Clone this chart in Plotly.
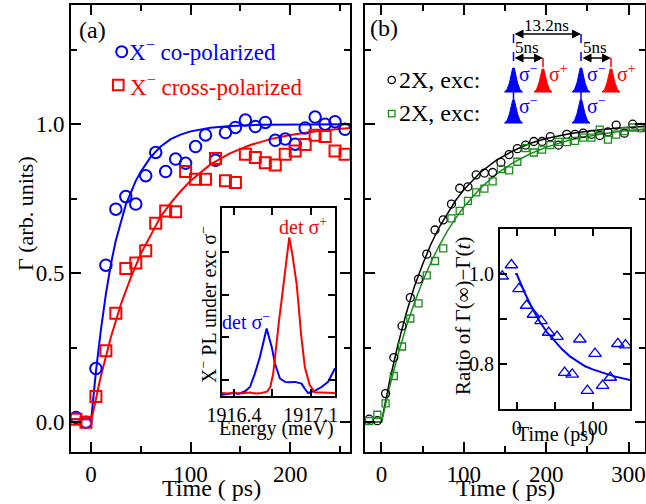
import plotly.graph_objects as go

W, H = 646, 504
FONT = "Liberation Serif, Times New Roman, Times, DejaVu Serif, serif"


def px(x):
    return x / W


def py(y):
    return 1 - y / H


# ---------------- Panel (a) data ----------------
t_a = [-15, -5, 5, 15, 25, 35, 45, 55, 65, 75, 85, 95, 105, 115, 125, 135, 145,
       155, 165, 175, 185, 195, 205, 215, 225, 235, 245, 255]
co_pol = [0.016, 0.0, 0.18, 0.527, 0.715, 0.757, 0.732, 0.827, 0.905, 0.841, 0.883,
          0.869, 0.925, 0.964, 0.879, 0.972, 0.989, 1.014, 0.992, 1.006, 0.946, 0.95,
          0.933, 0.987, 1.024, 1.0, 1.008, 0.983]
cross_pol = [0.01, 0.0, 0.086, 0.24, 0.366, 0.516, 0.534, 0.575, 0.668, 0.709, 0.706,
             0.841, 0.815, 0.815, 0.885, 0.81, 0.804, 0.899, 0.888, 0.871, 0.863, 0.899,
             0.91, 0.932, 0.963, 0.959, 0.91, 0.899]

fit_co_t = [-20, -1, 0, 5, 10, 15, 20, 25, 30, 35, 40, 45, 50, 60, 70, 80, 90, 100,
            120, 140, 170, 260]
fit_co = [0.01, 0.01, 0.0, 0.17, 0.31, 0.43, 0.53, 0.61, 0.67, 0.73, 0.77, 0.81, 0.84,
          0.89, 0.925, 0.95, 0.965, 0.976, 0.988, 0.994, 0.998, 1.0]
fit_cross_t = [-20, -1, 0, 5, 10, 15, 20, 30, 40, 50, 60, 70, 80, 90, 100, 120, 140,
               160, 180, 200, 230, 260]
fit_cross = [0.01, 0.01, 0.0, 0.08, 0.155, 0.22, 0.285, 0.395, 0.485, 0.565, 0.63,
             0.69, 0.735, 0.775, 0.81, 0.865, 0.903, 0.93, 0.95, 0.964, 0.978, 0.987]

# Inset (a): PL spectra
E_red = [1916.29, 1916.35, 1916.4, 1916.45, 1916.5, 1916.55, 1916.6, 1916.65, 1916.7,
         1916.73, 1916.757, 1916.788, 1916.81, 1916.833, 1916.855, 1916.879, 1916.903,
         1916.93, 1916.95, 1916.97, 1916.99, 1917.01, 1917.045, 1917.07, 1917.09,
         1917.136, 1917.2, 1917.25, 1917.32]
I_red = [-0.30, -0.31, -0.29, -0.31, -0.30, -0.29, -0.31, -0.30, -0.27, -0.16, 0.16,
         0.94, 1.4, 1.87, 2.35, 2.81, 3.34, 2.97, 2.6, 2.26, 1.7, 1.09, 0.31, 0.05,
         -0.12, -0.28, -0.29, -0.30, -0.30]
E_blue = [1916.29, 1916.35, 1916.4, 1916.44, 1916.5, 1916.545, 1916.59, 1916.636,
          1916.675, 1916.697, 1916.718, 1916.743, 1916.773, 1916.818, 1916.864, 1916.9,
          1916.955, 1917.015, 1917.045, 1917.075, 1917.136, 1917.197, 1917.257, 1917.3,
          1917.32]
I_blue = [-0.34, -0.32, -0.30, -0.32, -0.26, -0.16, 0.16, 0.55, 0.94, 1.21, 1.01, 0.78,
          0.39, 0.04, -0.04, -0.05, -0.04, -0.08, -0.2, -0.3, -0.25, -0.16, -0.04, 0.2,
          0.28]

# ---------------- Panel (b) data ----------------
t_b = [-15, -5, 5, 15, 25, 35, 45, 55, 65, 75, 85, 95, 105, 115, 125, 135, 145, 155,
       165, 175, 185, 195, 205, 215, 225, 235, 245, 255, 265, 275, 285, 295, 305, 315]
x2_same = [0.01, 0.005, 0.096, 0.217, 0.323, 0.418, 0.48, 0.564, 0.645, 0.679, 0.732,
           0.785, 0.79, 0.83, 0.836, 0.838, 0.872, 0.898, 0.918, 0.93, 0.942, 0.942,
           0.958, 0.93, 0.966, 0.966, 0.97, 0.966, 0.962, 0.974, 0.997, 0.97, 1.0, 0.989]
x2_alt = [0.004, 0.025, 0.063, 0.155, 0.254, 0.348, 0.399, 0.493, 0.541, 0.583, 0.684,
          0.709, 0.743, 0.771, 0.784, 0.808, 0.849, 0.845, 0.874, 0.92, 0.905, 0.915,
          0.93, 0.941, 0.94, 0.944, 0.955, 0.955, 0.982, 0.948, 0.965, 0.977, 0.989, 0.987]

fit_b_t = [-20, 0, 10, 20, 30, 40, 50, 60, 70, 80, 90, 100, 120, 140, 160, 180, 200,
           230, 260, 290, 320]
fit_same = [0.0, 0.0, 0.14, 0.26, 0.365, 0.455, 0.53, 0.597, 0.654, 0.70, 0.744, 0.78,
            0.838, 0.88, 0.911, 0.935, 0.952, 0.969, 0.98, 0.988, 0.992]
fit_alt = [0.0, 0.0, 0.12, 0.226, 0.32, 0.401, 0.473, 0.536, 0.592, 0.641, 0.684, 0.722,
           0.785, 0.834, 0.871, 0.9, 0.923, 0.948, 0.964, 0.976, 0.984]

# Inset (b): ratio
ratio_t = [-19, -7, 3, 13, 22, 32, 42, 53, 63, 73, 83, 93, 103, 113, 123, 133, 143]
ratio = [0.995, 1.02, 0.967, 0.93, 0.91, 0.896, 0.87, 0.861, 0.781, 0.777, 0.855, 0.741,
         0.823, 0.752, 0.77, 0.845, 0.842]
ratio_fit_t = [-2, 0, 5, 10, 20, 30, 40, 50, 60, 70, 80, 90, 100, 110, 120, 130, 140, 150]
ratio_fit = [1.0, 1.0, 0.98, 0.96, 0.925, 0.895, 0.87, 0.85, 0.832, 0.817, 0.805, 0.795,
             0.788, 0.782, 0.777, 0.772, 0.768, 0.764]

BLUE = "#0000ff"
RED = "#ff0000"
GREEN = "#1a8c1a"

fig = go.Figure()

# Panel (a)
fig.add_trace(go.Scatter(x=fit_co_t, y=fit_co, mode="lines", line=dict(color=BLUE, width=2),
                         xaxis="x", yaxis="y"))
fig.add_trace(go.Scatter(x=fit_cross_t, y=fit_cross, mode="lines", line=dict(color=RED, width=2),
                         xaxis="x", yaxis="y"))
fig.add_trace(go.Scatter(x=t_a, y=co_pol, mode="markers", xaxis="x", yaxis="y",
                         marker=dict(symbol="circle-open", size=11.5, color=BLUE,
                                     line=dict(width=2, color=BLUE))))
fig.add_trace(go.Scatter(x=t_a, y=cross_pol, mode="markers", xaxis="x", yaxis="y",
                         marker=dict(symbol="square-open", size=11, color=RED,
                                     line=dict(width=2, color=RED))))
# Inset (a)
fig.add_trace(go.Scatter(x=E_blue, y=I_blue, mode="lines", line=dict(color=BLUE, width=2),
                         xaxis="x3", yaxis="y3"))
fig.add_trace(go.Scatter(x=E_red, y=I_red, mode="lines", line=dict(color=RED, width=2),
                         xaxis="x3", yaxis="y3"))

# Panel (b)
fig.add_trace(go.Scatter(x=fit_b_t, y=fit_same, mode="lines", line=dict(color="black", width=1.5),
                         xaxis="x2", yaxis="y2"))
fig.add_trace(go.Scatter(x=fit_b_t, y=fit_alt, mode="lines", line=dict(color=GREEN, width=1.5),
                         xaxis="x2", yaxis="y2"))
fig.add_trace(go.Scatter(x=t_b, y=x2_same, mode="markers", xaxis="x2", yaxis="y2",
                         marker=dict(symbol="circle-open", size=8, color="black",
                                     line=dict(width=1.3, color="black"))))
fig.add_trace(go.Scatter(x=t_b, y=x2_alt, mode="markers", xaxis="x2", yaxis="y2",
                         marker=dict(symbol="square-open", size=7, color=GREEN,
                                     line=dict(width=1.3, color=GREEN))))
# Inset (b)
fig.add_trace(go.Scatter(x=ratio_fit_t, y=ratio_fit, mode="lines", line=dict(color=BLUE, width=2),
                         xaxis="x4", yaxis="y4"))
fig.add_trace(go.Scatter(x=ratio_t, y=ratio, mode="markers", xaxis="x4", yaxis="y4",
                         marker=dict(symbol="triangle-up-open", size=11, color=BLUE,
                                     line=dict(width=1.3, color=BLUE))))


def axis(**kw):
    d = dict(showline=True, linewidth=2, linecolor="black", mirror="ticks",
             ticks="inside", tickwidth=2, tickcolor="black", ticklen=10,
             showgrid=False, zeroline=False, automargin=False,
             tickfont=dict(family=FONT, size=23, color="black"))
    d.update(kw)
    return d


def minor(vals, ln=6):
    return dict(tickvals=vals, ticks="inside", ticklen=ln, tickwidth=2, tickcolor="black",
                showgrid=False)


ydom = [py(452), py(5)]
fig.update_layout(
    width=W, height=H, margin=dict(l=0, r=0, t=0, b=0),
    paper_bgcolor="white", plot_bgcolor="white", showlegend=False,
    font=dict(family=FONT),
    xaxis=axis(domain=[px(71), px(350)], range=[-20, 260], anchor="y",
               tickvals=[0, 100, 200], minor=minor([50, 150, 250])),
    yaxis=axis(domain=ydom, range=[-0.1, 1.4], anchor="x",
               tickvals=[0, 0.5, 1.0], ticktext=["0.0", "0.5", "1.0"],
               minor=minor([0.25, 0.75, 1.25])),
    xaxis2=axis(domain=[px(365), px(645)], range=[-20, 320], anchor="y2",
                tickvals=[0, 100, 200, 300], minor=minor([50, 150, 250])),
    yaxis2=axis(domain=ydom, range=[-0.1, 1.4], anchor="x2",
                tickvals=[0, 0.5, 1.0], showticklabels=False,
                minor=minor([0.25, 0.75, 1.25])),
    xaxis3=axis(domain=[px(222), px(335)], range=[1916.29, 1917.32], anchor="y3",
                tickvals=[1916.4, 1916.75, 1917.1], ticktext=["1916.4", "", "1917.1"],
                ticklen=7, tickfont=dict(family=FONT, size=20, color="black")),
    yaxis3=axis(domain=[py(396), py(208)], range=[-0.37, 4.03], anchor="x3",
                tickvals=[0, 1, 2, 3], showticklabels=False, ticklen=7),
    xaxis4=axis(domain=[px(500), px(630)], range=[-22, 149], anchor="y4",
                tickvals=[0, 50, 100], ticktext=["0", "", "100"], ticklen=7,
                tickfont=dict(family=FONT, size=20, color="black")),
    yaxis4=axis(domain=[py(409), py(229)], range=[0.7, 1.1], anchor="x4",
                tickvals=[0.8, 0.9, 1.0], ticktext=["0.8", "", "1.0"], ticklen=7,
                tickfont=dict(family=FONT, size=20, color="black")),
)


def ann(text, x, y, size, color="black", xanchor="center", yanchor="middle", angle=0):
    return dict(text=text, x=px(x), y=py(y), xref="paper", yref="paper", showarrow=False,
                font=dict(family=FONT, size=size, color=color), xanchor=xanchor,
                yanchor=yanchor, textangle=angle)


anns = [
    ann("(a)", 92, 30, 24),
    ann("(b)", 384, 28, 24),
    ann("X<sup>−</sup> co-polarized", 127, 51, 23, BLUE, xanchor="left"),
    ann("X<sup>−</sup> cross-polarized", 128, 85, 23, RED, xanchor="left"),
    ann("2X, exc:", 397, 80, 24, xanchor="left"),
    ann("2X, exc:", 397, 113, 24, xanchor="left"),
    ann("Γ (arb. units)", 25, 214, 22, angle=-90),
    ann("Time ( ps)", 211, 488, 24),
    ann("Time ( ps)", 505, 488, 24),
    ann("Energy (meV)", 276, 428, 20),
    ann("X<sup>−</sup> PL under exc σ<sup>−</sup>", 208, 305, 20, angle=-90),
    ann("det σ<sup>+</sup>", 303, 226, 20, RED),
    ann("det σ<sup>−</sup>", 246, 321, 20, BLUE),
    ann("Ratio of Γ(∞)−Γ(<i>t</i>)", 463, 316, 21, angle=-90),
    ann("Time (ps)", 556, 434, 20),
    ann("13.2ns", 546, 25, 17),
    ann("5ns", 527, 47, 17),
    ann("5ns", 595, 47, 17),
    ann("σ<sup>−</sup>", 517, 73, 20, BLUE, xanchor="left"),
    ann("σ<sup>+</sup>", 547, 73, 20, RED, xanchor="left"),
    ann("σ<sup>−</sup>", 585, 73, 20, BLUE, xanchor="left"),
    ann("σ<sup>+</sup>", 615, 73, 20, RED, xanchor="left"),
    ann("σ<sup>−</sup>", 517, 105, 20, BLUE, xanchor="left"),
    ann("σ<sup>−</sup>", 585, 105, 20, BLUE, xanchor="left"),
]


def arrow(x0, x1, y):
    return dict(text="", x=px(x1), y=py(y), xref="paper", yref="paper", ax=-(x1 - x0), ay=0,
                axref="pixel", ayref="pixel", showarrow=True, arrowhead=2, arrowsize=1.2,
                arrowwidth=1.5, arrowcolor="black", arrowside="end+start",
                standoff=0, startstandoff=0)


anns += [arrow(513, 581, 34), arrow(513, 543, 58), arrow(581, 611, 58)]

shapes = []
# legend keys
shapes.append(dict(type="circle", xref="paper", yref="paper", x0=px(116.2), x1=px(127.2),
                   y0=py(57.2), y1=py(46.2), line=dict(color=BLUE, width=2)))
shapes.append(dict(type="rect", xref="paper", yref="paper", x0=px(113), x1=px(123.6),
                   y0=py(90.3), y1=py(79.7), line=dict(color=RED, width=2)))
shapes.append(dict(type="circle", xref="paper", yref="paper", x0=px(388), x1=px(395.4),
                   y0=py(83.7), y1=py(76.3), line=dict(color="black", width=1.3)))
shapes.append(dict(type="rect", xref="paper", yref="paper", x0=px(388.5), x1=px(395),
                   y0=py(116.8), y1=py(110.3), line=dict(color=GREEN, width=1.3)))


def vdash(x, y0, y1, color):
    return dict(type="line", xref="paper", yref="paper", x0=px(x), x1=px(x), y0=py(y0),
                y1=py(y1), line=dict(color=color, width=1.5, dash="dash"))


shapes += [vdash(513.5, 34, 68, BLUE), vdash(581, 34, 68, BLUE),
           vdash(513.5, 92, 100, BLUE), vdash(581, 92, 100, BLUE),
           vdash(543, 58, 70, RED), vdash(611, 58, 70, RED)]


def pulse(cx, top, bot, hw, color):
    pts = [(cx - hw, bot), (cx - hw * 0.72, bot - 2.5), (cx - hw * 0.45, bot - 9),
           (cx - 0.8, top), (cx + 0.8, top), (cx + hw * 0.45, bot - 9),
           (cx + hw * 0.72, bot - 2.5), (cx + hw, bot)]
    p = "M " + " L ".join(f"{px(x)},{py(y)}" for x, y in pts) + " Z"
    return dict(type="path", xref="paper", yref="paper", path=p, fillcolor=color,
                line=dict(color=color, width=1))


shapes += [pulse(513.5, 68, 92, 9, BLUE), pulse(543, 69, 92, 9, RED),
           pulse(581, 68, 92, 9, BLUE), pulse(611, 69, 92, 9, RED),
           pulse(513.5, 100, 123, 9, BLUE), pulse(581, 100, 123, 9, BLUE)]

fig.update_layout(annotations=anns, shapes=shapes)
fig.write_html("out.html")
